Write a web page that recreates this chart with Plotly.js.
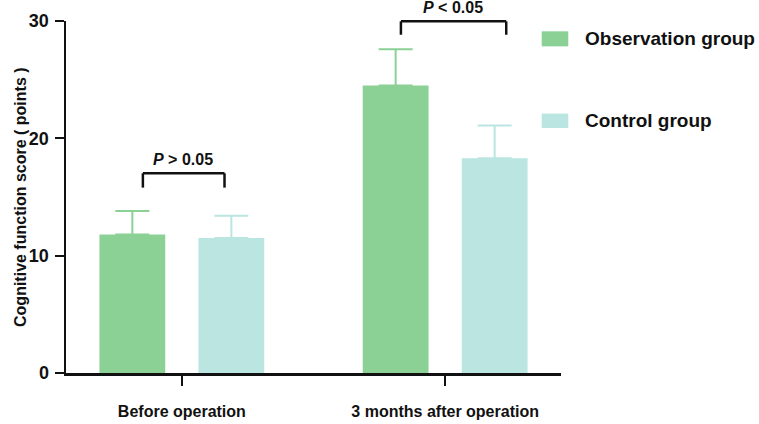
<!DOCTYPE html>
<html>
<head>
<meta charset="utf-8">
<script src="https://cdn.plot.ly/plotly-3.0.1.min.js"></script>
<style>html,body{margin:0;padding:0;background:#fff;}#chart{width:759px;height:424px;}</style>
</head>
<body>
<div id="chart"></div>
<script>
const categories = ["Before operation", "3 months after operation"];
const observationMean = [11.8, 24.5];
const observationSD = [2.0, 3.1];
const controlMean = [11.5, 18.3];
const controlSD = [1.9, 2.8];
const seriesNames = ["Observation group", "Control group"];
const pLabels = ["<i>P</i> > 0.05", "<i>P</i> < 0.05"];

const green = "#8BD195";
const teal = "#BBE5E1";
const FONT = "Liberation Sans, Arial, Helvetica, sans-serif";

const traces = [
  {
    type: "bar", name: seriesNames[0], x: categories, y: observationMean,
    width: 0.25, offset: -0.313,
    marker: {color: green, line: {width: 0}},
    error_y: {type: "data", symmetric: false, array: observationSD,
      arrayminus: observationSD.map(() => 0), color: green, thickness: 2, width: 17},
    showlegend: false
  },
  {
    type: "bar", name: seriesNames[1], x: categories, y: controlMean,
    width: 0.25, offset: 0.063,
    marker: {color: teal, line: {width: 0}},
    error_y: {type: "data", symmetric: false, array: controlSD,
      arrayminus: controlSD.map(() => 0), color: teal, thickness: 2, width: 17},
    showlegend: false
  }
];

function bracket(x0, x1, yTop, yBot, yref) {
  const l = {color: "#111", width: 2.5};
  return [
    {type: "line", xref: "x", yref: yref, x0: x0, x1: x0, y0: yBot, y1: yTop, line: l},
    {type: "line", xref: "x", yref: yref, x0: x0, x1: x1, y0: yTop, y1: yTop, line: l},
    {type: "line", xref: "x", yref: yref, x0: x1, x1: x1, y0: yTop, y1: yBot, line: l}
  ];
}

const shapes = [].concat(
  bracket(-0.148, 0.162, 17.02, 15.8, "y"),
  bracket(0.832, 1.232, 0.999, 0.961, "paper"),
  [
    {type: "rect", xref: "paper", yref: "paper", x0: 0.961, x1: 1.0147, y0: 0.928, y1: 0.9707,
      fillcolor: green, line: {width: 0}},
    {type: "rect", xref: "paper", yref: "paper", x0: 0.961, x1: 1.0147, y0: 0.696, y1: 0.737,
      fillcolor: teal, line: {width: 0}}
  ]
);

const annotations = [
  {text: pLabels[0], xref: "x", yref: "y", x: 0.005, y: 18.2, showarrow: false,
    xanchor: "center", yanchor: "middle", font: {family: FONT, size: 16, color: "#111", weight: "bold"}},
  {text: pLabels[1], xref: "x", yref: "paper", x: 1.03, y: 1.038, showarrow: false,
    xanchor: "center", yanchor: "middle", font: {family: FONT, size: 16, color: "#111", weight: "bold"}},
  {text: seriesNames[0], xref: "paper", yref: "paper", x: 1.0438, y: 0.9494, showarrow: false,
    xanchor: "left", yanchor: "middle", font: {family: FONT, size: 19, color: "#111", weight: "bold"}},
  {text: seriesNames[1], xref: "paper", yref: "paper", x: 1.0438, y: 0.7165, showarrow: false,
    xanchor: "left", yanchor: "middle", font: {family: FONT, size: 19, color: "#111", weight: "bold"}},
  {text: "Cognitive function score ( points )", xref: "paper", yref: "paper", x: -0.093, y: 0.5,
    textangle: -90, showarrow: false, xanchor: "center", yanchor: "middle",
    font: {family: FONT, size: 16, color: "#111", weight: "bold"}}
];

const layout = {
  width: 759, height: 424,
  margin: {l: 66, r: 198, t: 21, b: 51, pad: 0},
  paper_bgcolor: "#fff", plot_bgcolor: "#fff",
  showlegend: false,
  xaxis: {
    type: "category", range: [-0.44, 1.44], showgrid: false, zeroline: false,
    showline: true, linecolor: "#111", linewidth: 2.5,
    ticks: "outside", ticklen: 10, tickwidth: 2, tickcolor: "#111",
    ticklabelstandoff: 12,
    tickfont: {family: FONT, size: 16, color: "#111", weight: "bold"},
    fixedrange: true
  },
  yaxis: {
    range: [0, 30], tickvals: [0, 10, 20, 30], showgrid: false, zeroline: false,
    showline: true, linecolor: "#111", linewidth: 2.5,
    ticks: "outside", ticklen: 9, tickwidth: 2, tickcolor: "#111",
    ticklabelstandoff: 2,
    tickfont: {family: FONT, size: 18, color: "#111", weight: "bold"},
    fixedrange: true
  },
  shapes: shapes,
  annotations: annotations
};

Plotly.newPlot("chart", traces, layout, {displayModeBar: false, staticPlot: true});
</script>
</body>
</html>
